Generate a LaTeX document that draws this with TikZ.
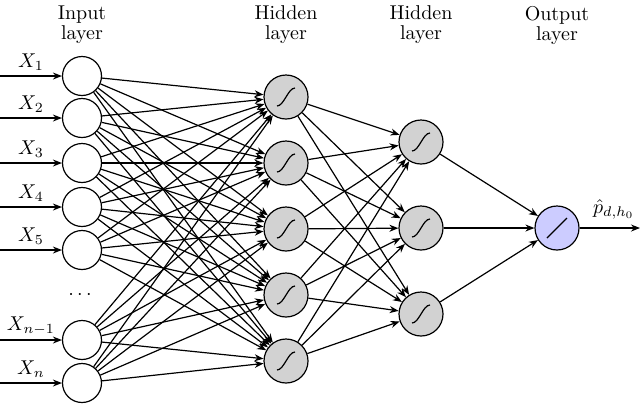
\documentclass[tikz,border=0pt]{standalone}
\usetikzlibrary{arrows.meta}
\begin{document}
\begin{tikzpicture}[x=0.5pt,y=-0.5pt,line width=0.6pt,
  >={Stealth[length=4.5pt,width=3.5pt]},
  inp/.style={circle,draw,minimum size=19.5pt,inner sep=0pt},
  hid/.style={circle,draw,fill=gray!35,minimum size=22pt,inner sep=0pt,
    path picture={\draw[line width=0.6pt] ([shift={(-4.5pt,-4.5pt)}]path picture bounding box.center)
      .. controls +(3.5pt,0pt) and +(-3.5pt,0pt) .. ++(9pt,9pt);}},
  outn/.style={circle,draw,fill=blue!20,minimum size=22pt,inner sep=0pt,
    path picture={\draw[line width=0.6pt] ([shift={(-5pt,-5pt)}]path picture bounding box.center) -- ++(10pt,10pt);}},
  hdr/.style={align=center,font=\normalsize}]
\useasboundingbox (0,0) rectangle (640,404);
% headers
\node[hdr] (hI) at (82,25) {Input\\[-2pt]layer};
\node[hdr] (hH1) at (286,25) {Hidden\\[-2pt]layer};
\node[hdr] (hH2) at (421,25) {Hidden\\[-2pt]layer};
\node[hdr] (hO) at (557,25) {Output\\[-2pt]layer};
% input layer
\foreach \i/\y/\l in {1/76/X_1,2/118/X_2,3/163/X_3,4/207/X_4,5/250/X_5,6/340/X_{n-1},7/383/X_n}{
  \node[inp] (i\i) at (82,\y) {};
  \coordinate (s\i) at (0,\y);
  \draw[->] (s\i) -- node[above=-1pt] {$\l$} (i\i);
}
\node (dots) at (80,295) {$\cdots$};
% hidden layers
\foreach \j/\y in {1/97,2/163,3/229,4/295,5/361}
  \node[hid] (a\j) at (286,\y) {};
\foreach \k/\y in {1/142,2/228,3/314}
  \node[hid] (b\k) at (421,\y) {};
\node[outn] (o) at (557,228) {};
\coordinate (e) at (640,228);
% connections
\foreach \i in {1,...,7}
  \foreach \j in {1,...,5}
    \draw[->] (i\i) -- (a\j);
\foreach \j in {1,...,5}
  \foreach \k in {1,2,3}
    \draw[->] (a\j) -- (b\k);
\foreach \k in {1,2,3}
  \draw[->] (b\k) -- (o);
\draw[->] (o) -- node[above=1pt,xshift=2pt] {$\hat{p}_{d,h_0}$} (e);
\end{tikzpicture}
\end{document}
